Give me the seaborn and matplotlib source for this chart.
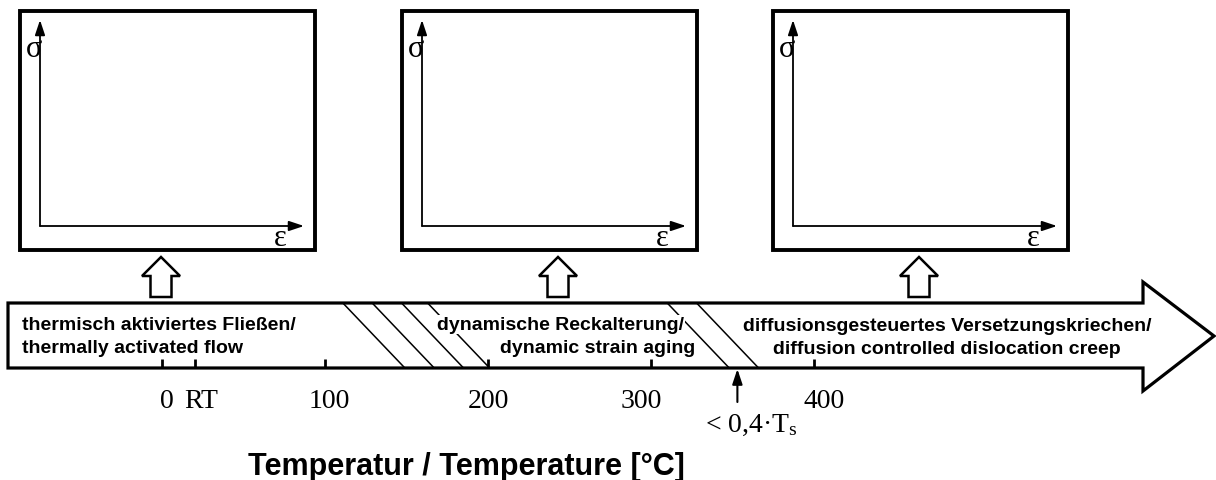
import matplotlib
matplotlib.use("Agg")
import matplotlib.pyplot as plt
from matplotlib.patches import Polygon, Rectangle
import seaborn as sns
import pandas as pd

# ---------------- data ----------------
tick_temps = [0, 20, 100, 200, 300, 400]
tick_labels = ["0", "RT", "100", "200", "300", "400"]
dsa_hatch_bottoms = [149, 167, 185, 201]      # °C where transition hatch lines meet the axis
creep_hatch_bottoms = [348, 366]
ts_limit = 353                                # °C, "< 0,4 Ts" marker
regime_de = ["thermisch aktiviertes Fließen/",
             "dynamische Reckalterung/",
             "diffusionsgesteuertes Versetzungskriechen/"]
regime_en = ["thermally activated flow",
             "dynamic strain aging",
             "diffusion controlled dislocation creep"]
axis_title = "Temperatur / Temperature [°C]"
ts_label = "< 0,4·T$_\\mathrm{s}$"
stress_symbol = "σ"
strain_symbol = "ε"

# ---------------- style ----------------
sns.set_theme(style="white")
plt.rcParams['font.family'] = ['Liberation Sans', 'DejaVu Sans']
plt.rcParams['text.color'] = 'black'
plt.rcParams['mathtext.fontset'] = 'custom'
plt.rcParams['mathtext.rm'] = 'Liberation Serif'
plt.rcParams['mathtext.it'] = 'Liberation Serif:italic'
SERIF = ['Liberation Serif', 'DejaVu Serif']

W, H = 1216, 481
PX_PER_DEG = 1.63
X0_PX = 162
SLANT = 62 / PX_PER_DEG
LABEL_NUDGE_PT = [3.5, 5, 3, 0, -7, 7]   # small horizontal label offsets (points)

fig = plt.figure(figsize=(W / 100, H / 100), dpi=100)

# ---- temperature axes (x in °C, y in pixels) ----
ax_t = fig.add_axes([0, 0, 1, 1])
rows = []
for i, b in enumerate(dsa_hatch_bottoms + creep_hatch_bottoms):
    rows.append({"line": i, "T": b - SLANT, "y": 304})
    rows.append({"line": i, "T": b, "y": 369})
hatch = pd.DataFrame(rows)
sns.lineplot(data=hatch, x="T", y="y", units="line", estimator=None,
             color="black", lw=1.1, ax=ax_t, legend=False, sort=False)
ax_t.vlines(tick_temps, 360, 369, color="black", lw=2)
for t, lbl, dx in zip(tick_temps, tick_labels, LABEL_NUDGE_PT):
    ax_t.annotate(lbl, xy=(t, 408), xytext=(dx, 0), textcoords="offset points",
                  ha="center", va="baseline", fontsize=20, family=SERIF)
ax_t.annotate("", xy=(ts_limit, 370), xytext=(ts_limit, 403),
              arrowprops=dict(arrowstyle="-|>,head_length=0.6,head_width=0.2",
                              color="black", lw=1.5, mutation_scale=15,
                              shrinkA=0, shrinkB=0))
ax_t.annotate(ts_label, xy=(ts_limit, 432), xytext=(10, 0), textcoords="offset points",
              ha="center", va="baseline", fontsize=20, family=SERIF)
ax_t.set_xlim(-X0_PX / PX_PER_DEG, (W - X0_PX) / PX_PER_DEG)
ax_t.set_ylim(H, 0)
ax_t.axis("off")

# ---- layout axes (pixels) ----
ax_l = fig.add_axes([0, 0, 1, 1])
ax_l.set_xlim(0, W)
ax_l.set_ylim(H, 0)
ax_l.axis("off")
ax_l.patch.set_alpha(0)

# big temperature arrow
big = Polygon([(8, 304), (1143, 304), (1143, 283), (1214, 337), (1143, 392),
               (1143, 369), (8, 369)], closed=True, fill=False, ec="black",
              lw=2.3, joinstyle="miter")
ax_l.add_patch(big)

# stress-strain boxes
box_lefts = [20, 402, 773]
arrow_centers = [161, 558, 919]
for l, cx in zip(box_lefts, arrow_centers):
    ax_l.add_patch(Rectangle((l, 12), 295, 239, fill=False, ec="black", lw=2.8,
                             joinstyle="miter"))
    ap = dict(arrowstyle="-|>,head_length=0.6,head_width=0.2", color="black",
              lw=1.3, mutation_scale=15, shrinkA=0, shrinkB=0)
    ax_l.annotate("", xy=(l + 20, 21), xytext=(l + 20, 227), arrowprops=ap)
    ax_l.annotate("", xy=(l + 284, 227), xytext=(l + 20, 227), arrowprops=ap)
    ax_l.text(l + 14, 57, stress_symbol, ha="center", va="baseline",
              fontsize=22, family=SERIF)
    ax_l.text(l + 260, 246, strain_symbol, ha="center", va="baseline",
              fontsize=22, family=SERIF)
    up = Polygon([(cx, 258), (cx + 19, 277), (cx + 10.5, 277), (cx + 10.5, 298),
                  (cx - 10.5, 298), (cx - 10.5, 277), (cx - 19, 277)],
                 closed=True, fill=False, ec="black", lw=1.8, joinstyle="miter")
    ax_l.add_patch(up)

# regime labels
tk = dict(fontsize=14, fontweight="bold", va="baseline", color="black")
wb = dict(boxstyle="square,pad=0.05", fc="white", ec="none")
ax_l.text(22, 330, regime_de[0], ha="left", **tk)
ax_l.text(22, 353, regime_en[0], ha="left", **tk)
ax_l.text(684, 330, regime_de[1], ha="right", bbox=wb, **tk)
ax_l.text(695, 353, regime_en[1], ha="right", bbox=wb, **tk)
ax_l.text(947, 331, regime_de[2], ha="center", **tk)
ax_l.text(947, 354, regime_en[2], ha="center", **tk)

ax_l.text(466, 475, axis_title, ha="center", va="baseline", fontsize=22,
          fontweight="bold", color="black")

fig.savefig("out.png", dpi=100, facecolor="white")
